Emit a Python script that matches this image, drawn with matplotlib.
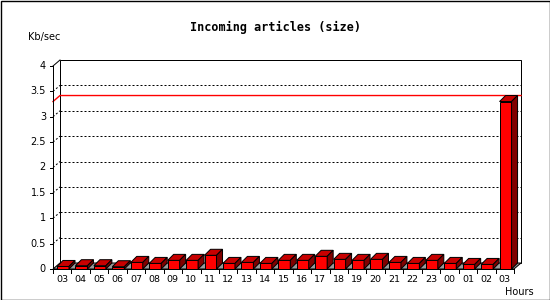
import matplotlib
matplotlib.use("Agg")
import matplotlib.pyplot as plt
from matplotlib.patches import Polygon, Rectangle

# hourly incoming article size, Kb/sec
hours = ["03", "04", "05", "06", "07", "08", "09", "10", "11", "12", "13", "14", "15",
         "16", "17", "18", "19", "20", "21", "22", "23", "00", "01", "02", "03"]
kbsec = [0.05, 0.065, 0.065, 0.045, 0.13, 0.11, 0.17, 0.17, 0.27, 0.11, 0.13, 0.11, 0.17,
         0.17, 0.25, 0.19, 0.17, 0.19, 0.13, 0.11, 0.17, 0.11, 0.09, 0.09, 3.3]
yticks = [0, 0.5, 1, 1.5, 2, 2.5, 3, 3.5, 4]
ytick_labels = ["0", "0.5", "1", "1.5", "2", "2.5", "3", "3.5", "4"]

W, H = 550, 300
PX = 0.72  # one pixel in points at dpi 100
fig = plt.figure(figsize=(W / 100, H / 100), dpi=100)
fig.patch.set_facecolor("white")

# plot area in pixels: front axis x=53, back wall right x=521, floor y=269, back top y=60
n = len(kbsec)
slot = 18.44
xpx0, ypx0, ppu = 53, 269, 50.75
DX, DY = 7 / slot, 6 / ppu          # depth of the chart box
BX, BY = 6 / slot, 6 / ppu          # depth of each bar
ax = fig.add_axes([xpx0 / W, (H - ypx0) / H, (n * slot + 7) / W, (4 * ppu + 6) / H])
ax.set_xlim(0, n + DX)
ax.set_ylim(0, 4 + DY)
ax.axis("off")

lw = PX
# back wall
ax.add_patch(Rectangle((DX, DY), n, 4, facecolor="white", edgecolor="black", lw=lw,
                       clip_on=False, zorder=1))
# floor
ax.add_patch(Polygon([(0, 0), (n, 0), (n + DX, DY), (DX, DY)], closed=True,
                     facecolor="#999999", edgecolor="black", lw=lw, clip_on=False, zorder=1))

# grid lines on the back wall
for v in yticks[1:-1]:
    ax.plot([DX, n + DX], [v + DY, v + DY], color="black", lw=lw, dashes=(2, 2),
            clip_on=False, zorder=2)
    ax.plot([0, DX], [v, v + DY], color="black", lw=lw, dashes=(2, 2), clip_on=False, zorder=2)

# max value line
vmax = max(kbsec)
ax.plot([0, DX, n + DX], [vmax, vmax + DY, vmax + DY], color="#ff0000", lw=1.0,
        clip_on=False, zorder=3)

# left axis and ticks
ax.plot([0, 0], [0, 4], color="black", lw=lw, clip_on=False, zorder=5)
ax.plot([0, DX], [4, 4 + DY], color="black", lw=lw, clip_on=False, zorder=5)
for v, lab in zip(yticks, ytick_labels):
    ax.plot([-3 / slot, 0], [v, v], color="black", lw=lw, clip_on=False, zorder=5)
    ax.text(-7 / slot, v, lab, ha="right", va="center", fontsize=7, clip_on=False)

# bars
off, bw = 4 / slot, 12 / slot
for i, v in enumerate(kbsec):
    x0 = i + off
    x1 = x0 + bw
    ax.add_patch(Rectangle((x0, 0), bw, v, facecolor="#ff0000", edgecolor="black",
                           lw=lw, clip_on=False, zorder=4))
    ax.add_patch(Polygon([(x0, v), (x1, v), (x1 + BX, v + BY), (x0 + BX, v + BY)],
                         closed=True, facecolor="#c80000", edgecolor="black", lw=lw,
                         clip_on=False, zorder=4))
    ax.add_patch(Polygon([(x1, 0), (x1 + BX, BY), (x1 + BX, v + BY), (x1, v)],
                         closed=True, facecolor="#800000", edgecolor="black", lw=lw,
                         clip_on=False, zorder=4))

# bottom axis, ticks and labels
ax.plot([0, n], [0, 0], color="black", lw=lw, clip_on=False, zorder=5)
for k in range(n + 1):
    ax.plot([k, k], [0, -4 / ppu], color="black", lw=lw, clip_on=False, zorder=5)
for i, lab in enumerate(hours):
    ax.text(i + 0.5, -11 / ppu, lab, ha="center", va="center", fontsize=6.8, clip_on=False)

# texts
fig.text(276 / W, 1 - 27 / H, "Incoming articles (size)", ha="center", va="center",
         fontsize=8.5, fontweight="bold", family="DejaVu Sans Mono")
fig.text(28 / W, 1 - 37 / H, "Kb/sec", ha="left", va="center", fontsize=7)
fig.text(534 / W, 1 - 292 / H, "Hours", ha="right", va="center", fontsize=7)

# image frame
fig.add_artist(Rectangle((0.5 / W, 0.5 / H), 1 - 1 / W, 1 - 1 / H, transform=fig.transFigure,
                         fill=False, edgecolor="black", lw=1.0))

fig.savefig("out.png", dpi=100)
